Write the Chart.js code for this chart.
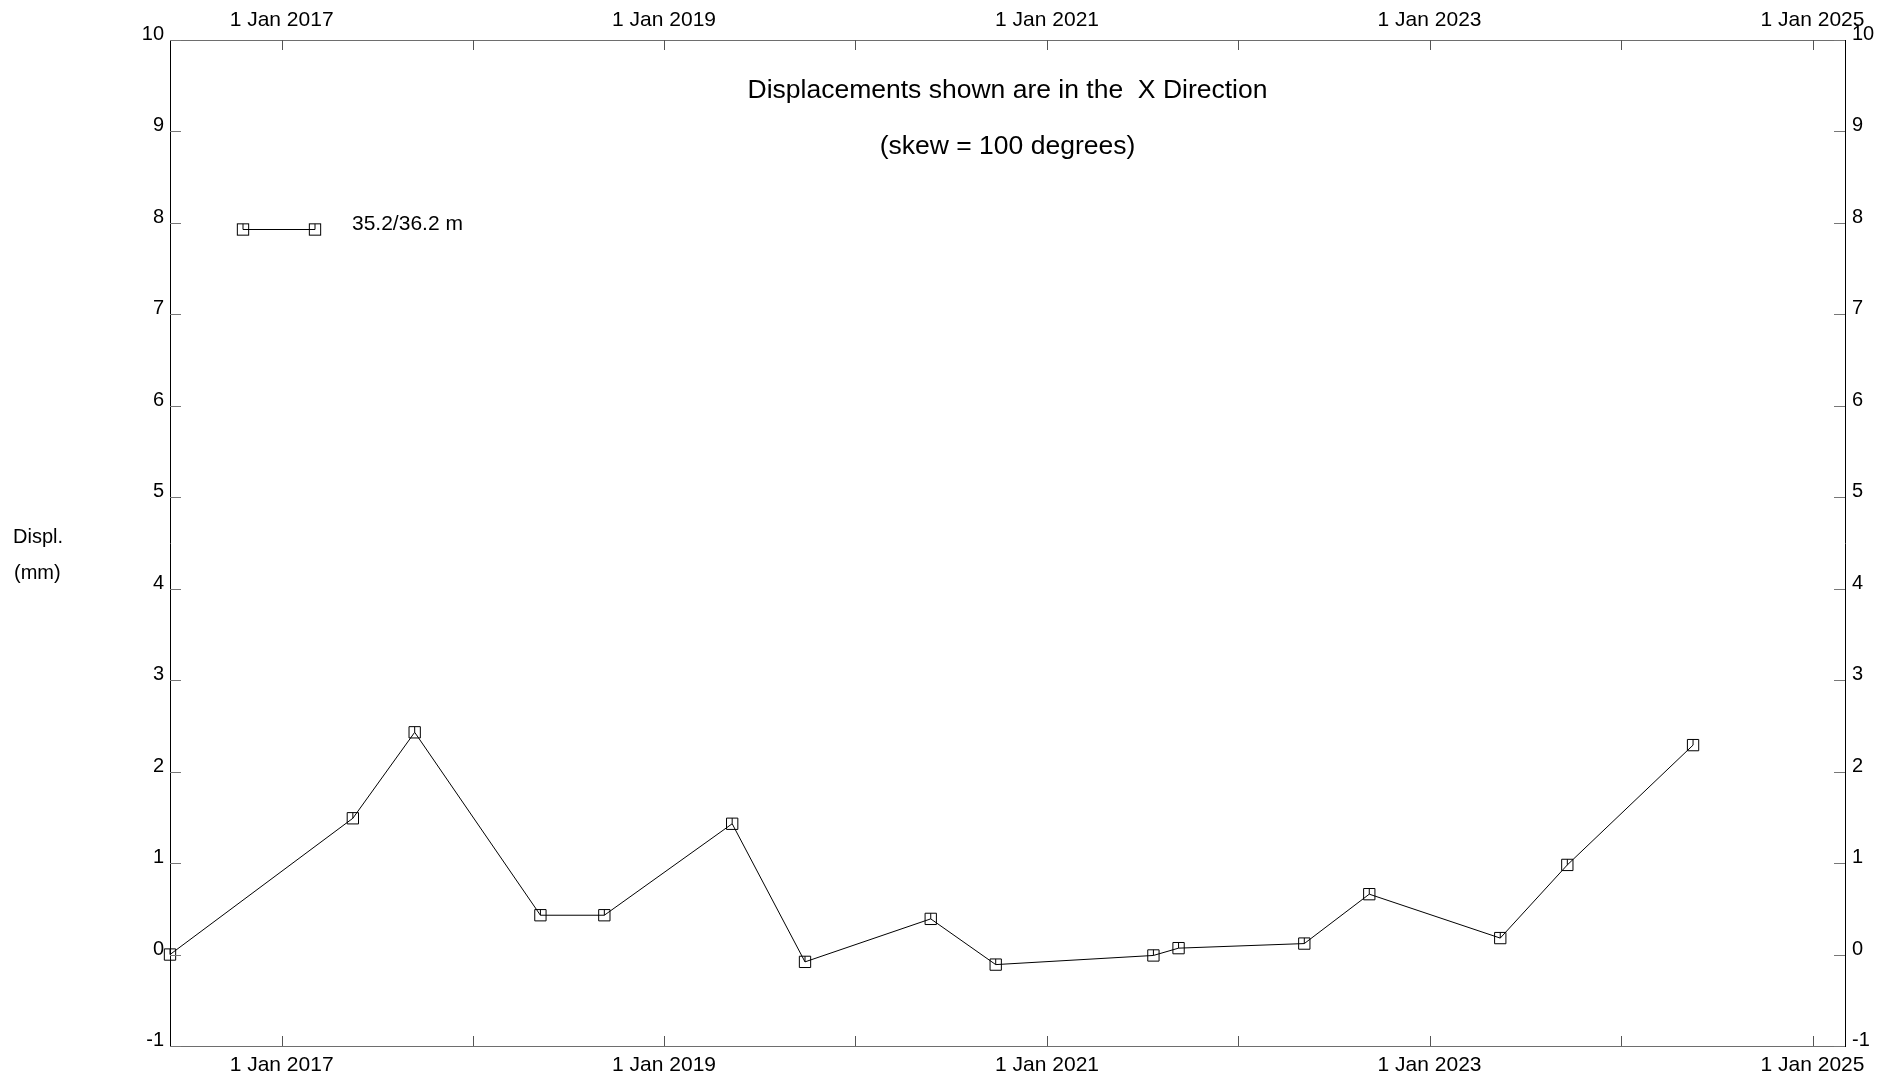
<!DOCTYPE html>
<html>
<head>
<meta charset="utf-8">
<title>Displacements – X Direction</title>
<script src="https://cdn.jsdelivr.net/npm/chart.js@4.4.1/dist/chart.umd.min.js"></script>
<style>
  html, body { margin: 0; padding: 0; background: #fff; }
  canvas { display: block; }
</style>
</head>
<body>
<canvas id="chart" width="1878" height="1079"></canvas>
<script>
// Survey dates and measured X displacement (mm) for sensor pair 35.2/36.2 m
const surveyDates = [
  '2016-06-02', '2017-05-17', '2017-09-12', '2018-05-10', '2018-09-09',
  '2019-05-11', '2019-09-27', '2020-05-24', '2020-09-25', '2021-07-23',
  '2021-09-09', '2022-05-07', '2022-09-08', '2023-05-16', '2023-09-21',
  '2024-05-18'
];
const displacementX = [
  0.00, 1.49, 2.43, 0.43, 0.43,
  1.43, -0.08, 0.39, -0.11, -0.01,
  0.07, 0.12, 0.66, 0.18, 0.98,
  2.29
];
const seriesName = '35.2/36.2 m';

// Axis ticks
const tickYears = [2017, 2018, 2019, 2020, 2021, 2022, 2023, 2024, 2025];
const xTickLabels = ['1 Jan 2017', '', '1 Jan 2019', '', '1 Jan 2021', '', '1 Jan 2023', '', '1 Jan 2025'];
const yTickValues = [-1, 0, 1, 2, 3, 4, 5, 6, 7, 8, 9, 10];
const axisEndDate = '2025-03-04';

const titleLines = ['Displacements shown are in the  X Direction', '(skew = 100 degrees)'];
const yTitleLines = ['Displ.', '(mm)'];

const toMs = s => Date.parse(s + 'T00:00:00Z');
const points = surveyDates.map((d, i) => ({ x: toMs(d), y: displacementX[i] }));

const FONT = '"Liberation Sans", Arial, Helvetica, sans-serif';
const MARK_R = 8;                         // rect point radius
const HALF = MARK_R * Math.SQRT1_2;       // half side of the square marker

function xAxis(position, height) {
  return {
    type: 'linear',
    position,
    min: toMs(surveyDates[0]),
    max: toMs(axisEndDate),
    afterBuildTicks: s => { s.ticks = tickYears.map(y => ({ value: Date.UTC(y, 0, 1) })); },
    afterFit: s => { s.height = height; },
    grid: { display: false, drawTicks: false },
    border: { display: true, color: '#6e6e6e', width: 1 },
    ticks: {
      autoSkip: false, maxRotation: 0, minRotation: 0, padding: 7,
      color: '#000', font: { family: FONT, size: 21 },
      callback: (v, i) => xTickLabels[i]
    }
  };
}

function yAxis(position, width, padding) {
  return {
    type: 'linear',
    position,
    min: yTickValues[0],
    max: yTickValues[yTickValues.length - 1],
    afterBuildTicks: s => { s.ticks = yTickValues.map(v => ({ value: v })); },
    afterFit: s => { s.width = width; },
    grid: { display: false, drawTicks: false },
    border: { display: true, color: '#000', width: 1 },
    ticks: {
      padding, labelOffset: -5.5,
      color: '#000', font: { family: FONT, size: 20 },
      callback: v => String(v)
    }
  };
}

function line(ctx, x1, y1, x2, y2) {
  ctx.beginPath(); ctx.moveTo(x1, y1); ctx.lineTo(x2, y2); ctx.stroke();
}

function marker(ctx, x, y) {
  ctx.strokeRect(x - HALF, y - HALF, 2 * HALF, 2 * HALF);
  line(ctx, x, y - HALF, x, y);
}

// Inward tick marks, marker stems, in-plot titles and the legend
const overlay = {
  id: 'overlay',
  afterDatasetsDraw(chart) {
    const { ctx, chartArea: a, scales } = chart;
    ctx.save();
    ctx.lineWidth = 1;

    ctx.strokeStyle = '#555';
    scales.x.ticks.forEach(t => {
      const px = Math.round(scales.x.getPixelForValue(t.value)) + 0.5;
      line(ctx, px, a.bottom, px, a.bottom - 10);
      line(ctx, px, a.top, px, a.top + 10);
    });
    ctx.strokeStyle = '#777';
    scales.y.ticks.forEach(t => {
      const py = Math.round(scales.y.getPixelForValue(t.value)) + 0.5;
      line(ctx, a.left, py, a.left + 11, py);
      line(ctx, a.right, py, a.right - 11, py);
    });

    // stems inside each marker
    ctx.strokeStyle = '#000';
    chart.getDatasetMeta(0).data.forEach(p => line(ctx, p.x, p.y - HALF, p.x, p.y));

    // titles inside the plot
    ctx.fillStyle = '#000';
    ctx.textAlign = 'center';
    ctx.textBaseline = 'alphabetic';
    ctx.font = '26.5px ' + FONT;
    const cx = (a.left + a.right) / 2;
    ctx.fillText(titleLines[0], cx, a.top + 58);
    ctx.fillText(titleLines[1], cx, a.top + 114);

    // legend
    const ly = a.top + 189.5;
    const lx1 = a.left + 73, lx2 = a.left + 145;
    line(ctx, lx1, ly, lx2, ly);
    marker(ctx, lx1, ly);
    marker(ctx, lx2, ly);
    ctx.textAlign = 'left';
    ctx.font = '21px ' + FONT;
    ctx.fillText(seriesName, a.left + 182, a.top + 190);

    // y axis title
    ctx.font = '20px ' + FONT;
    ctx.fillText(yTitleLines[0], 13, 543);
    ctx.fillText(yTitleLines[1], 14, 579);
    ctx.restore();
  }
};

new Chart(document.getElementById('chart'), {
  type: 'line',
  data: {
    datasets: [{
      label: seriesName,
      data: points,
      xAxisID: 'x',
      yAxisID: 'y',
      borderColor: '#000',
      borderWidth: 1,
      tension: 0,
      fill: false,
      clip: false,
      pointStyle: 'rect',
      pointRadius: MARK_R,
      pointHoverRadius: MARK_R,
      pointBorderWidth: 1,
      pointBorderColor: '#000',
      pointBackgroundColor: 'rgba(255,255,255,0)'
    }]
  },
  options: {
    responsive: false,
    animation: false,
    layout: { padding: 0 },
    plugins: { legend: { display: false }, tooltip: { enabled: false }, title: { display: false } },
    scales: {
      x: xAxis('bottom', 33),
      x2: xAxis('top', 40),
      y: yAxis('left', 170, 6),
      y2: yAxis('right', 33, 7)
    }
  },
  plugins: [overlay]
});
</script>
</body>
</html>
